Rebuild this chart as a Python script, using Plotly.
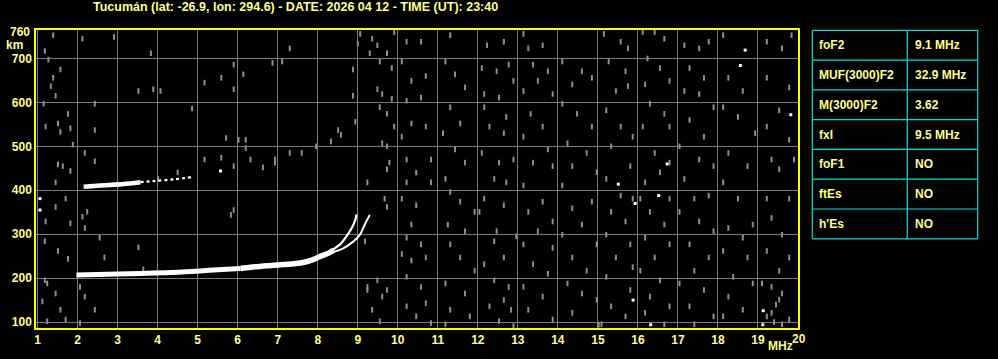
import plotly.graph_objects as go

# ---------------- data ----------------
title_text = "Tucumán (lat: -26.9, lon: 294.6) - DATE: 2026 04 12 - TIME (UT): 23:40"

x_ticks = list(range(1, 21))
y_ticks = [100, 200, 300, 400, 500, 600, 700]

# main F-layer trace (ordinary), thick lower part
o_low_mhz = [1.97, 2.5, 3.0, 3.57, 4.2, 4.82, 5.07, 5.5, 6.07]
o_low_km = [207.5, 208.5, 209.5, 210.6, 212.5, 215.0, 216.5, 219.0, 222.0]
o_mid_mhz = [6.07, 6.32, 6.9, 7.57, 7.85, 8.07, 8.25, 8.4]
o_mid_km = [222.0, 225.0, 229.5, 234.7, 241.0, 250.0, 256.0, 264.0]
o_top_mhz = [8.35, 8.57, 8.73, 8.86, 8.94, 8.97]
o_top_km = [263.0, 278.0, 297.0, 316.0, 333.0, 345.0]
# extraordinary branch
x_mhz = [8.35, 8.57, 8.73, 8.98, 9.08, 9.15, 9.23, 9.3]
x_km = [259.0, 265.0, 273.0, 291.0, 303.0, 317.0, 332.0, 344.0]
# second hop trace
h2a_mhz = [2.15, 2.57, 3.15, 3.57]
h2a_km = [408.0, 411.0, 414.5, 418.5]
h2b_mhz = [3.57, 3.9, 4.4, 4.86]
h2b_km = [418.5, 421.0, 425.0, 430.0]

noise_pts = [
    (1.39,753),(1.18,717),(1.27,697),(1.57,675),(1.39,656),(1.33,637),(1.45,615),(1.15,597),
    (1.76,574),(1.51,552),(1.2,545),(1.82,541),(1.57,533),(1.88,504),(1.51,459),(1.63,455),
    (1.82,444),(1.45,418),(1.45,362),(1.7,381),(1.2,329),(1.82,325),(1.18,284),(1.51,262),
    (1.76,244),(1.18,195),(1.24,188),(1.45,165),(1.12,147),(1.57,128),(1.7,106),(1.24,102),
    (2.12,745),(2.91,749),(2.43,597),(2.43,537),(2.18,485),(2.43,466),(2.24,351),(2.12,340),
    (2.18,314),(2.55,292),(2.67,247),(2.06,180),(2.18,158),(2.43,128),(2.06,98),
    (3.83,712),(3.52,626),(3.89,630),(3.52,270),(3.64,220),
    (4.07,626),(4.86,586),(4.5,441),(4.01,426),
    (5.17,645),(5.59,656),(5.9,630),(5.71,519),(5.59,474),(5.9,455),(5.9,355),(5.83,344),
    (6.02,515),(5.9,686),(5.17,470),
    (6.14,664),(6.2,515),(6.32,470),(6.63,452),(6.2,496),(6.87,690),(6.93,470),(6.93,463),
    (7.11,693),(7.3,723),(7.3,485),(7.6,485),(7.96,500),
    (8.51,537),(8.58,526),(8.88,675),(8.88,615),(8.94,556),(9.0,734),(8.33,511),
    (9.06,756),(9.36,745),(9.49,730),(9.3,712),(9.73,712),(9.91,760),(9.55,693),(9.85,678),
    (9.49,630),(9.61,619),(9.85,608),(9.55,589),(9.73,574),(9.91,545),(9.61,507),(9.73,500),
    (9.24,418),(9.73,448),(9.79,463),(9.67,381),(9.73,362),(9.18,284),(9.24,180),(9.49,195),
    (9.61,158),(9.36,128),(9.55,102),(9.73,173),(9.24,173),
    (10.22,738),(10.58,738),(10.1,693),(10.34,649),(10.7,660),(10.22,604),(10.58,611),
    (10.34,552),(10.7,545),(10.1,522),(10.22,470),(10.83,470),(10.46,440),(10.22,418),
    (10.83,418),(10.1,381),(10.46,366),(10.34,322),(10.22,292),(10.58,277),(10.1,255),
    (10.34,240),(10.7,247),(10.22,203),(10.58,180),(10.22,136),(10.7,143),(10.46,113),(10.83,98),
    (11.31,753),(11.19,693),(11.43,664),(11.68,634),(11.31,589),(11.56,552),(11.13,530),
    (11.43,493),(11.68,463),(11.19,426),(11.31,396),(11.56,374),(11.92,351),(11.25,322),
    (11.68,307),(11.31,277),(11.56,247),(11.92,217),(11.19,188),(11.68,165),(11.31,128),
    (11.8,113),(11.19,95),
    (12.23,730),(12.65,738),(12.1,678),(12.47,671),(12.77,686),(12.16,619),(12.53,611),
    (12.89,649),(12.16,589),(12.71,567),(12.29,545),(12.65,530),(12.1,485),(12.53,463),
    (12.89,470),(12.41,426),(12.71,418),(12.16,381),(12.65,366),(12.04,351),(12.47,307),
    (12.96,295),(12.41,284),(12.65,247),(12.16,232),(12.41,195),(12.77,180),(12.65,150),
    (12.29,136),(12.83,128),(12.53,102),(12.89,91),
    (13.14,756),(13.26,723),(13.62,730),(13.38,686),(13.75,671),(13.14,626),(13.5,649),
    (13.87,619),(13.32,574),(13.62,545),(13.14,522),(13.75,493),(13.38,463),(13.87,455),
    (13.14,411),(13.62,374),(13.26,351),(13.87,329),(13.5,307),(13.14,277),(13.87,269),
    (13.38,232),(13.75,210),(13.14,180),(13.62,158),(13.26,128),(13.87,106),
    (14.11,693),(14.6,671),(14.36,641),(14.85,656),(14.11,597),(14.48,574),(14.85,545),
    (14.24,507),(14.72,485),(14.36,455),(14.97,441),(14.11,411),(14.36,359),(14.85,374),
    (14.6,322),(14.11,299),(14.97,277),(14.36,247),(14.72,217),(14.24,188),(14.6,165),
    (14.97,151),(14.36,121),(15.09,95),(15.02,94),
    (15.15,756),(15.57,738),(15.75,723),(15.27,693),(15.69,671),(15.45,626),(15.75,637),
    (15.21,582),(15.57,545),(15.87,522),(15.33,500),(15.81,455),(15.21,426),(15.87,381),
    (15.57,388),(15.33,351),(15.69,329),(15.21,299),(15.81,277),(15.45,247),(15.87,225),
    (15.21,203),(15.81,173),(15.33,136),(15.69,113),
    (16.12,760),(16.42,760),(16.66,745),(16.24,700),(16.55,678),(16.79,649),(16.18,641),
    (16.3,597),(16.66,574),(16.79,545),(16.12,545),(16.42,485),(16.79,463),(16.55,441),
    (16.18,418),(16.79,381),(16.06,381),(16.3,351),(16.66,322),(16.18,292),(16.79,277),
    (16.42,247),(16.06,217),(16.55,195),(16.3,158),(16.79,136),(16.18,121),(16.66,95),
    (17.16,730),(17.53,723),(17.77,738),(17.29,678),(17.65,656),(17.16,626),(17.53,619),
    (17.89,589),(17.29,560),(17.65,522),(17.04,500),(17.53,470),(17.89,455),(17.16,426),
    (17.41,381),(17.77,388),(17.04,351),(17.53,329),(17.89,307),(17.29,277),(17.77,247),
    (17.41,217),(17.04,188),(17.65,173),(17.29,136),(17.89,113),(17.41,95),
    (18.13,753),(18.26,656),(18.62,626),(18.13,589),(18.5,567),(18.93,530),(18.26,485),
    (18.74,455),(18.13,418),(18.5,381),(18.87,322),(18.26,314),(18.62,292),(18.13,262),
    (18.74,247),(18.38,203),(18.87,188),(18.26,158),(18.62,128),(18.13,113),
    (19.22,738),(19.6,723),(19.84,753),(19.22,656),(19.78,634),(19.53,582),(19.22,545),
    (19.78,515),(19.34,470),(19.9,470),(19.53,448),(19.22,381),(19.78,381),(19.34,337),
    (19.6,299),(19.22,262),(19.78,247),(19.53,217),(19.1,188),(19.34,180),(19.6,165),
    (19.53,151),(19.22,113),(19.34,121),(19.78,106),(19.45,140),(19.4,100),(19.6,95),
]
white_pts = [
    (1.06,381),(1.06,355),(5.57,444),(15.51,414),(15.93,370),(15.88,150),(16.32,94),
    (16.73,460),(16.52,388),(18.68,719),(18.56,684),(19.82,572),(19.13,126),(19.12,94),
]

table_labels = ["foF2", "MUF(3000)F2", "M(3000)F2", "fxI", "foF1", "ftEs", "h'Es"]
table_values = ["9.1 MHz", "32.9 MHz", "3.62", "9.5 MHz", "NO", "NO", "NO"]

# ---------------- styling ----------------
W_PX, H_PX = 998, 359
L, R, T, B = 36, 798, 30, 333
PW, PH = R - L, B - T
YEL_TXT = "#ffff88"
YEL_LINE = "#ffff00"
CYAN = "#00dede"
GRID = "#7a7a7a"
NOISE = "#8e8e8e"
FONT = dict(family="Liberation Sans, Arial, sans-serif", size=12, color=YEL_TXT, weight="bold")
TITLE_FONT = dict(FONT, size=12.5)


def xp(x):
    return (x - L) / PW


def yp(y):
    return (B - y) / PH


fig = go.Figure()

fig.add_trace(go.Scatter(
    x=[p[0] for p in noise_pts], y=[p[1] for p in noise_pts], mode="markers",
    marker=dict(symbol="line-ns", size=4, line=dict(width=2, color=NOISE)),
    hoverinfo="skip"))
fig.add_trace(go.Scatter(
    x=[p[0] for p in white_pts], y=[p[1] for p in white_pts], mode="markers",
    marker=dict(symbol="square", size=3, color="white", line=dict(width=0)),
    hoverinfo="skip"))

segments = [
    (o_low_mhz, o_low_km, 5),
    (o_mid_mhz, o_mid_km, 5.5),
    (o_top_mhz, o_top_km, 2.2),
    (x_mhz, x_km, 2),
    (h2a_mhz, h2a_km, 4.5),
]
for xs, ys, w in segments:
    fig.add_trace(go.Scatter(x=xs, y=ys, mode="lines",
                             line=dict(color="white", width=w, shape="spline", smoothing=0.6),
                             hoverinfo="skip"))
fig.add_trace(go.Scatter(x=h2b_mhz, y=h2b_km, mode="lines",
                         line=dict(color="white", width=2.2, dash="dot", shape="spline"),
                         hoverinfo="skip"))

fig.update_xaxes(range=[0.96, 20.0], tickvals=x_ticks, ticktext=[str(v) for v in x_ticks[:-1]] + [""],
                 showgrid=True, gridcolor=GRID, gridwidth=1, zeroline=False,
                 showline=True, mirror=True, linecolor=YEL_LINE, linewidth=1.5,
                 ticks="", tickfont=FONT)
fig.update_yaxes(range=[86.6, 764.8], tickvals=y_ticks, ticktext=[str(v) for v in y_ticks],
                 showgrid=True, gridcolor=GRID, gridwidth=1, zeroline=False,
                 showline=True, mirror=True, linecolor=YEL_LINE, linewidth=1.5,
                 ticks="", tickfont=FONT)

ann = []
ann.append(dict(text=title_text, x=xp(295), y=yp(7), xref="paper", yref="paper",
                xanchor="center", yanchor="middle", showarrow=False, font=TITLE_FONT))
ann.append(dict(text="760", x=xp(32), y=yp(31.7), xref="paper", yref="paper",
                xanchor="right", yanchor="middle", showarrow=False, font=FONT))
ann.append(dict(text="km", x=xp(14), y=yp(45.5), xref="paper", yref="paper",
                xanchor="center", yanchor="middle", showarrow=False, font=FONT))
ann.append(dict(text="20", x=xp(799), y=yp(344.5), xref="paper", yref="paper",
                xanchor="center", yanchor="middle", showarrow=False, font=FONT))
ann.append(dict(text="MHz", x=xp(780), y=yp(351), xref="paper", yref="paper",
                xanchor="center", yanchor="middle", showarrow=False, font=FONT))

# table
tx0, tx1, tmid = 812.3, 977.7, 907.3
ty0, ty1 = 30.3, 242.3
n = len(table_labels)
rh = (ty1 - ty0) / n
shapes = []
line_style = dict(color=CYAN, width=1.2)
for i in range(n + 1):
    yy = ty0 + i * rh
    shapes.append(dict(type="line", xref="paper", yref="paper",
                       x0=xp(tx0), x1=xp(tx1), y0=yp(yy), y1=yp(yy), line=line_style))
for xx in (tx0, tmid, tx1):
    shapes.append(dict(type="line", xref="paper", yref="paper",
                       x0=xp(xx), x1=xp(xx), y0=yp(ty0), y1=yp(ty1), line=line_style))
for i, (lab, val) in enumerate(zip(table_labels, table_values)):
    yc = ty0 + (i + 0.5) * rh
    ann.append(dict(text=lab, x=xp(817), y=yp(yc), xref="paper", yref="paper",
                    xanchor="left", yanchor="middle", showarrow=False, font=FONT))
    ann.append(dict(text=val, x=xp(912.5), y=yp(yc), xref="paper", yref="paper",
                    xanchor="left", yanchor="middle", showarrow=False, font=FONT))

fig.update_layout(
    width=W_PX, height=H_PX, autosize=False,
    margin=dict(l=L, r=W_PX - R, t=T, b=H_PX - B, pad=0),
    paper_bgcolor="black", plot_bgcolor="black",
    showlegend=False, hovermode=False,
    annotations=ann, shapes=shapes,
)

fig.write_html("out.html", config={"displayModeBar": False})
